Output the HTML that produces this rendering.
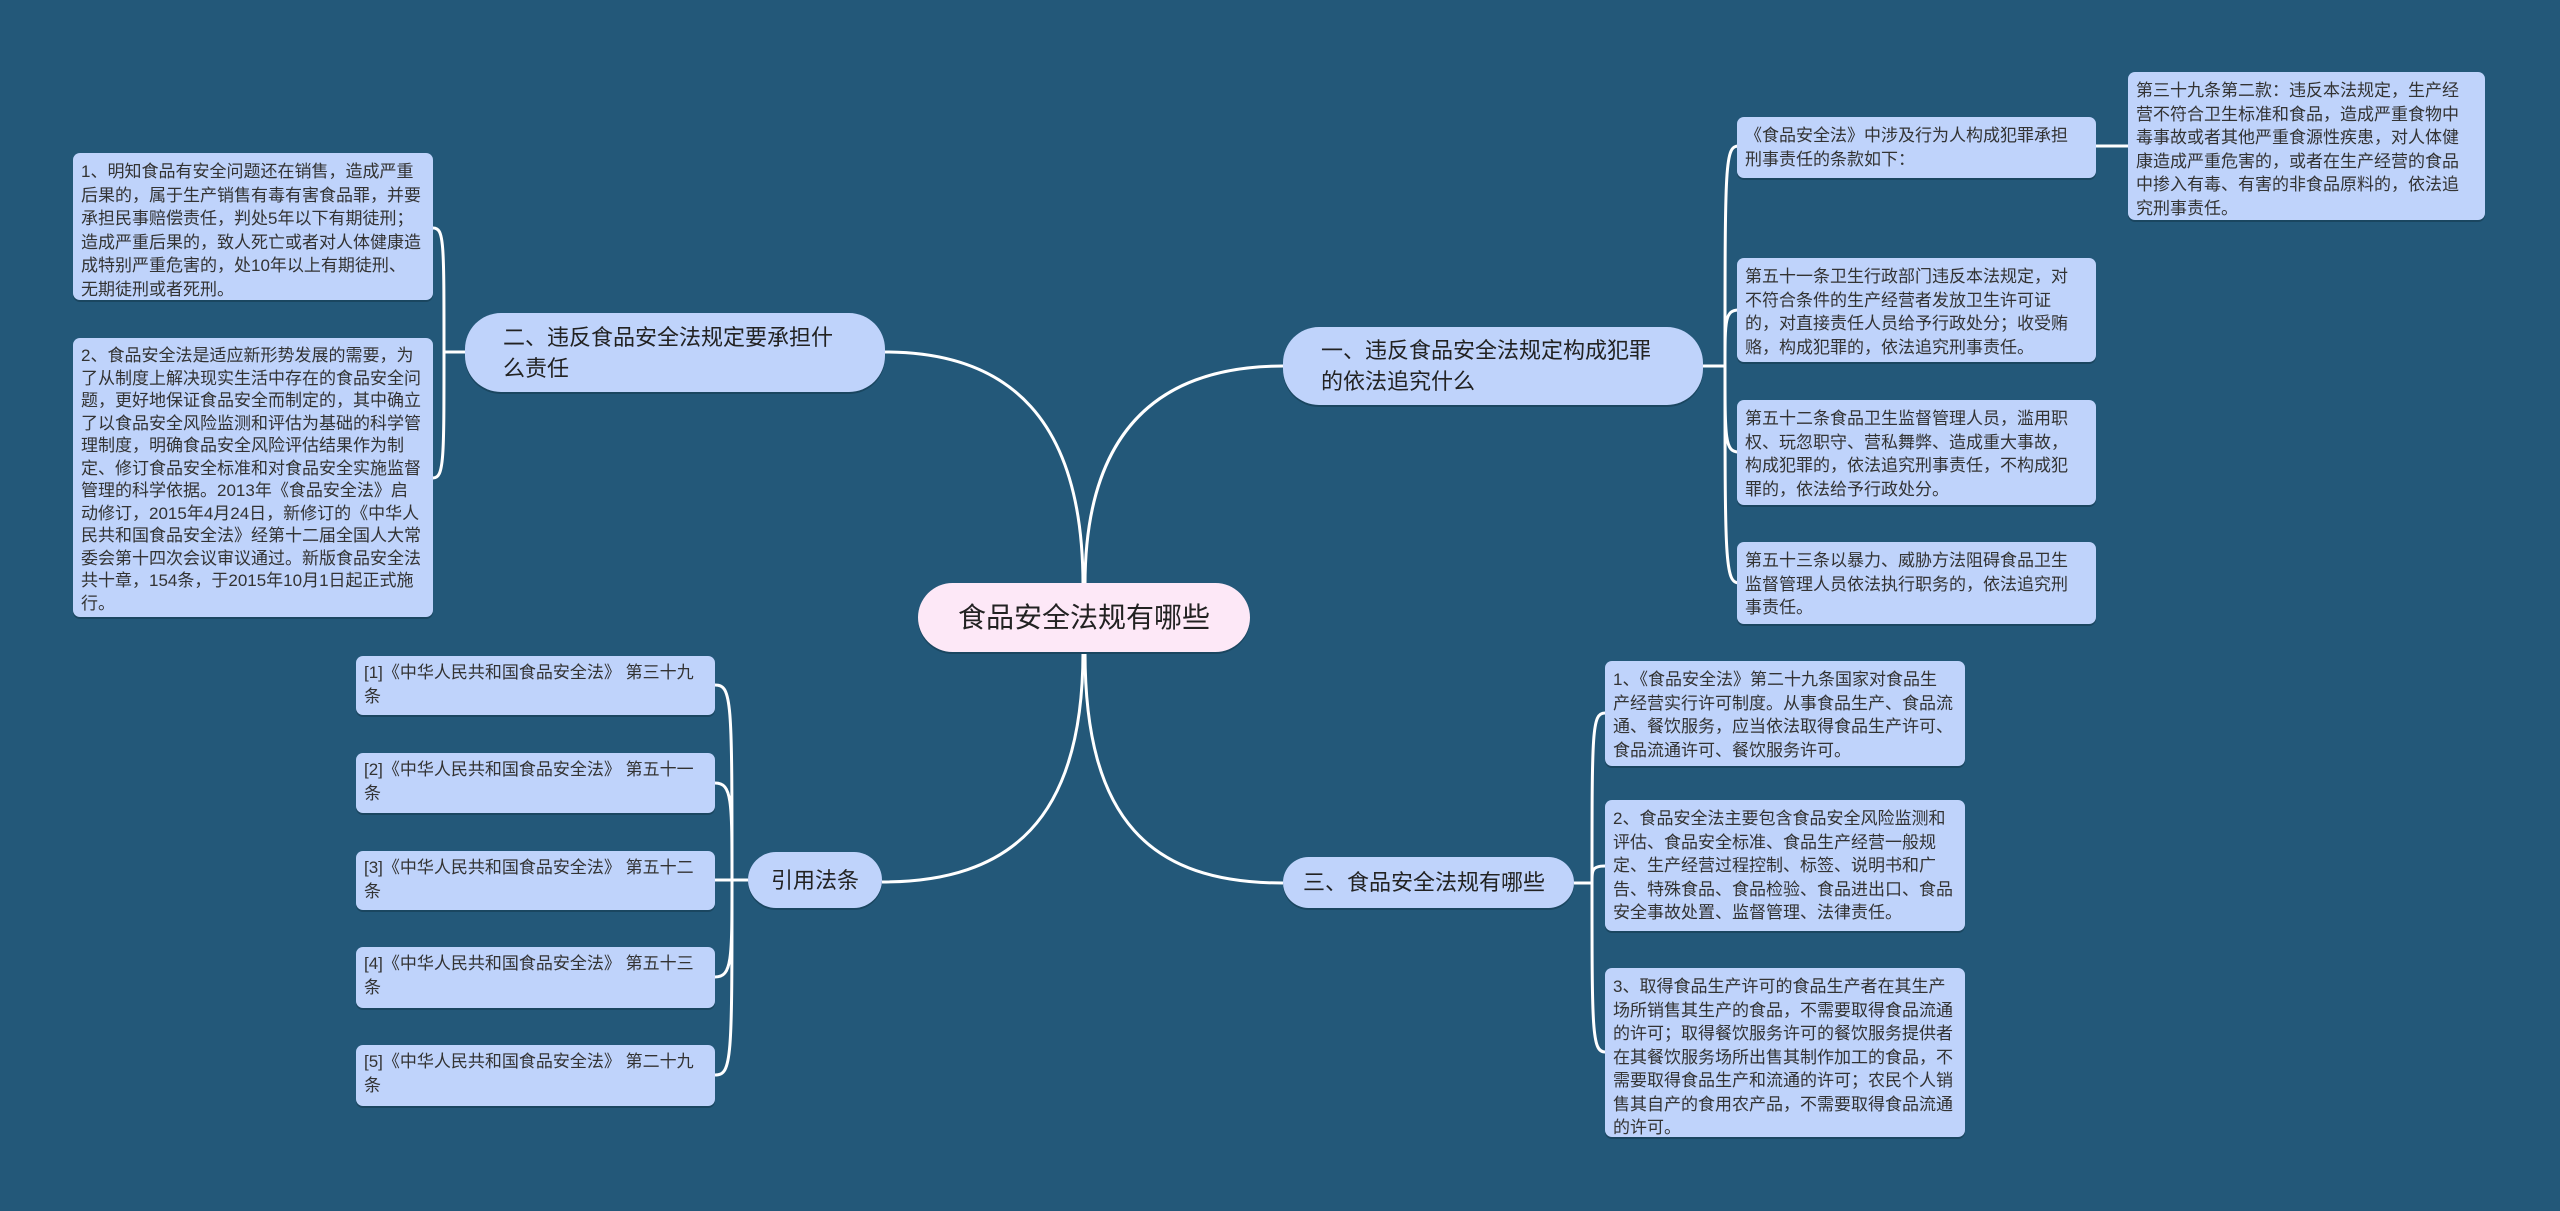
<!DOCTYPE html>
<html><head><meta charset="utf-8"><style>
body{margin:0;width:2560px;height:1211px;background:#235879;position:relative;overflow:hidden;font-family:"Liberation Sans","Noto Sans CJK SC",sans-serif;}
.b{position:absolute;background:#bfd3fb;border-radius:7px;box-shadow:0 2px 0 #1a4660;color:#333;font-size:17px;line-height:23.5px;padding:7px 12px 7px 8px;box-sizing:border-box;word-break:break-all;}
.m{position:absolute;background:#bfd3fb;border-radius:36px;color:#222;font-size:22px;line-height:31px;box-sizing:border-box;display:flex;align-items:center;padding:0 38px;box-shadow:0 2px 0 #1a4660;}
svg{position:absolute;left:0;top:0}
</style></head><body>
<svg width="2560" height="1211" fill="none" stroke="#fff" stroke-width="3">
<path d="M1083 585 C1083 420 1010 352 885 352"/>
<path d="M1085 585 C1085 440 1150 366 1283 366"/>
<path d="M1083 652 C1083 820 1010 882 882 882"/>
<path d="M1085 652 C1085 820 1150 883 1283 883"/>
<path d="M465 352 L444 352 M444 352 C444 240 444 228 433 228 M444 352 C444 460 444 478 433 478"/>
<path d="M1703 366 L1725 366 M1725 366 C1725 160 1725 146 1739 146 M1725 366 C1725 320 1725 310 1739 310 M1725 366 C1725 440 1725 452 1739 452 M1725 366 C1725 560 1725 583 1739 583"/>
<path d="M2095 146 L2128 146"/>
<path d="M1574 883 L1592 883 M1592 883 C1592 730 1592 713 1605 713 M1592 883 C1592 870 1592 866 1605 866 M1592 883 C1592 1030 1592 1052 1605 1052"/>
<path d="M748 880 L732 880 M732 880 C732 700 732 685 715 685 M732 880 C732 800 732 783 715 783 M732 880 L715 880 M732 880 C732 960 732 977 715 977 M732 880 C732 1060 732 1075 715 1075"/>
</svg>
<div class="m" style="left:918px;top:583px;width:332px;height:69px;background:#fde8f7;border-radius:35px;font-size:28px;justify-content:center;padding:0">食品安全法规有哪些</div>
<div class="m" style="left:465px;top:313px;width:420px;height:79px;">二、违反食品安全法规定要承担什么责任</div>
<div class="m" style="left:1283px;top:327px;width:420px;height:78px;">一、违反食品安全法规定构成犯罪的依法追究什么</div>
<div class="m" style="left:1283px;top:857px;width:291px;height:51px;padding:0 20px">三、食品安全法规有哪些</div>
<div class="m" style="left:748px;top:852px;width:134px;height:56px;padding:0;justify-content:center">引用法条</div>

<div class="b" style="left:73px;top:153px;width:360px;height:147px">1、明知食品有安全问题还在销售，造成严重后果的，属于生产销售有毒有害食品罪，并要承担民事赔偿责任，判处5年以下有期徒刑；造成严重后果的，致人死亡或者对人体健康造成特别严重危害的，处10年以上有期徒刑、无期徒刑或者死刑。</div>
<div class="b" style="left:73px;top:338px;width:360px;height:279px;line-height:22.5px">2、食品安全法是适应新形势发展的需要，为了从制度上解决现实生活中存在的食品安全问题，更好地保证食品安全而制定的，其中确立了以食品安全风险监测和评估为基础的科学管理制度，明确食品安全风险评估结果作为制定、修订食品安全标准和对食品安全实施监督管理的科学依据。2013年《食品安全法》启动修订，2015年4月24日，新修订的《中华人民共和国食品安全法》经第十二届全国人大常委会第十四次会议审议通过。新版食品安全法共十章，154条，于2015年10月1日起正式施行。</div>

<div class="b" style="left:1737px;top:117px;width:359px;height:61px">《食品安全法》中涉及行为人构成犯罪承担刑事责任的条款如下：</div>
<div class="b" style="left:2128px;top:72px;width:357px;height:148px">第三十九条第二款：违反本法规定，生产经营不符合卫生标准和食品，造成严重食物中毒事故或者其他严重食源性疾患，对人体健康造成严重危害的，或者在生产经营的食品中掺入有毒、有害的非食品原料的，依法追究刑事责任。</div>
<div class="b" style="left:1737px;top:258px;width:359px;height:104px">第五十一条卫生行政部门违反本法规定，对不符合条件的生产经营者发放卫生许可证的，对直接责任人员给予行政处分；收受贿赂，构成犯罪的，依法追究刑事责任。</div>
<div class="b" style="left:1737px;top:400px;width:359px;height:105px">第五十二条食品卫生监督管理人员，滥用职权、玩忽职守、营私舞弊、造成重大事故，构成犯罪的，依法追究刑事责任，不构成犯罪的，依法给予行政处分。</div>
<div class="b" style="left:1737px;top:542px;width:359px;height:82px">第五十三条以暴力、威胁方法阻碍食品卫生监督管理人员依法执行职务的，依法追究刑事责任。</div>

<div class="b" style="left:1605px;top:661px;width:360px;height:105px"> 1、《食品安全法》第二十九条国家对食品生产经营实行许可制度。从事食品生产、食品流通、餐饮服务，应当依法取得食品生产许可、食品流通许可、餐饮服务许可。</div>
<div class="b" style="left:1605px;top:800px;width:360px;height:131px"> 2、食品安全法主要包含食品安全风险监测和评估、食品安全标准、食品生产经营一般规定、生产经营过程控制、标签、说明书和广告、特殊食品、食品检验、食品进出口、食品安全事故处置、监督管理、法律责任。</div>
<div class="b" style="left:1605px;top:968px;width:360px;height:169px"> 3、取得食品生产许可的食品生产者在其生产场所销售其生产的食品，不需要取得食品流通的许可；取得餐饮服务许可的餐饮服务提供者在其餐饮服务场所出售其制作加工的食品，不需要取得食品生产和流通的许可；农民个人销售其自产的食用农产品，不需要取得食品流通的许可。</div>

<div class="b" style="left:356px;top:656px;width:359px;height:59px;padding-top:5px">[1]《中华人民共和国食品安全法》 第三十九<br>条</div>
<div class="b" style="left:356px;top:753px;width:359px;height:60px;padding-top:5px">[2]《中华人民共和国食品安全法》 第五十一<br>条</div>
<div class="b" style="left:356px;top:851px;width:359px;height:59px;padding-top:5px">[3]《中华人民共和国食品安全法》 第五十二<br>条</div>
<div class="b" style="left:356px;top:947px;width:359px;height:61px;padding-top:5px">[4]《中华人民共和国食品安全法》 第五十三<br>条</div>
<div class="b" style="left:356px;top:1045px;width:359px;height:61px;padding-top:5px">[5]《中华人民共和国食品安全法》 第二十九<br>条</div>
</body></html>
